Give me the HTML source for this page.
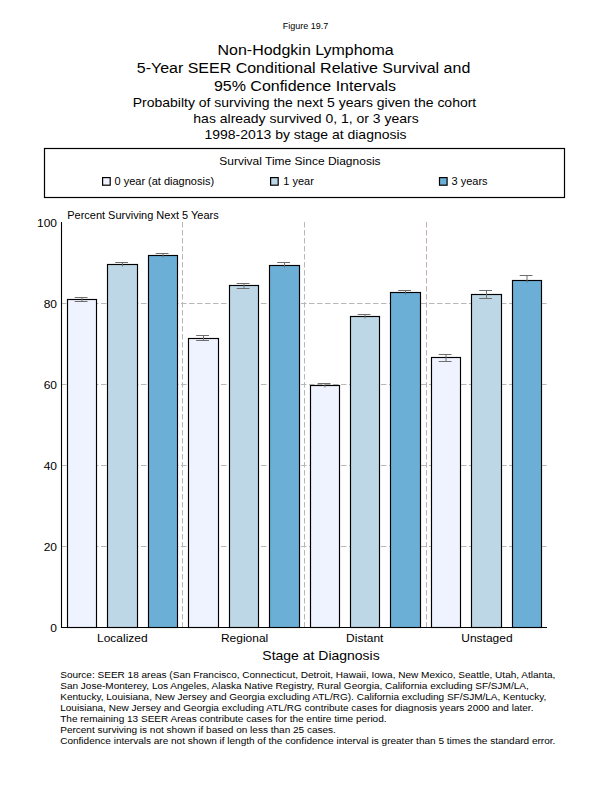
<!DOCTYPE html>
<html><head><meta charset="utf-8"><title>Figure 19.7</title>
<style>
html,body{margin:0;padding:0;background:#fff;}
svg{display:block;}
text{font-family:"Liberation Sans",sans-serif;fill:#000;}
</style></head>
<body>
<svg width="612" height="792" viewBox="0 0 612 792">
<rect width="612" height="792" fill="#fff"/>
<text transform="matrix(1.0 0 0 1.0 305.6 28.7)" font-size="9" text-anchor="middle">Figure 19.7</text>
<text transform="matrix(1.0 0 0 0.93 305.6 55.3)" font-size="16" text-anchor="middle">Non-Hodgkin Lymphoma</text>
<text transform="matrix(1.0 0 0 0.93 303.5 72.9)" font-size="16" text-anchor="middle">5-Year SEER Conditional Relative Survival and</text>
<text transform="matrix(1.0 0 0 0.93 305 90.9)" font-size="16" text-anchor="middle">95% Confidence Intervals</text>
<text transform="matrix(1.0 0 0 0.93 304.5 107.1)" font-size="14" text-anchor="middle">Probabilty of surviving the next 5 years given the cohort</text>
<text transform="matrix(1.0 0 0 0.93 306 123)" font-size="14" text-anchor="middle">has already survived 0, 1, or 3 years</text>
<text transform="matrix(1.0 0 0 0.93 305.5 138.7)" font-size="14" text-anchor="middle">1998-2013 by stage at diagnosis</text>
<rect x="44.5" y="148.5" width="520" height="49" fill="none" stroke="#000" stroke-width="1.2"/>
<text transform="matrix(1.0 0 0 0.93 299.9 164.6)" font-size="12" text-anchor="middle">Survival Time Since Diagnosis</text>
<g stroke="#000" stroke-width="1.2"><rect x="102.6" y="177.6" width="7.6" height="7.6" fill="#eff3ff"/><rect x="270.6" y="177.6" width="7.6" height="7.6" fill="#bdd7e7"/><rect x="439.5" y="177.6" width="7.6" height="7.6" fill="#6baed6"/></g>
<text transform="matrix(1.0 0 0 0.93 114.5 184.7)" font-size="11">0 year (at diagnosis)</text>
<text transform="matrix(1.0 0 0 0.93 283.3 184.7)" font-size="11">1 year</text>
<text transform="matrix(1.0 0 0 0.93 451.5 184.7)" font-size="11">3 years</text>
<text transform="matrix(1.0 0 0 0.93 67.2 218.7)" font-size="11">Percent Surviving Next 5 Years</text>
<g stroke="#b8b8b8" stroke-width="1" stroke-dasharray="5.5 2.5" fill="none"><line x1="61" y1="303.5" x2="547" y2="303.5"/><line x1="61" y1="384.5" x2="547" y2="384.5"/><line x1="61" y1="465.5" x2="547" y2="465.5"/><line x1="61" y1="546.5" x2="547" y2="546.5"/><line x1="182.5" y1="222" x2="182.5" y2="627"/><line x1="304.5" y1="222" x2="304.5" y2="627"/><line x1="426.5" y1="222" x2="426.5" y2="627" stroke="#c2adbb"/></g>
<g stroke="#000" stroke-width="1.15"><rect x="67.5" y="299.5" width="29" height="328" fill="#eff3ff"/><rect x="107.5" y="264.5" width="30" height="363" fill="#bdd7e7"/><rect x="148.5" y="255.5" width="29" height="372" fill="#6baed6"/><rect x="188.5" y="338.5" width="30" height="289" fill="#eff3ff"/><rect x="229.5" y="285.5" width="29" height="342" fill="#bdd7e7"/><rect x="269.5" y="265.5" width="30" height="362" fill="#6baed6"/><rect x="310.5" y="385.5" width="29" height="242" fill="#eff3ff"/><rect x="350.5" y="316.5" width="29" height="311" fill="#bdd7e7"/><rect x="390.5" y="292.5" width="30" height="335" fill="#6baed6"/><rect x="431.5" y="357.5" width="29" height="270" fill="#eff3ff"/><rect x="471.5" y="294.5" width="30" height="333" fill="#bdd7e7"/><rect x="512.5" y="280.5" width="29" height="347" fill="#6baed6"/></g>
<g stroke="#6e6e6e" stroke-width="1" fill="none"><path d="M74.70 297.5H87.50M82.0 297.5V301.5M74.70 301.5H87.50"/><path d="M115.20 262.5H128.00M122.5 262.5V266.5"/><path d="M155.70 253.5H168.50M163.0 253.5V257.5"/><path d="M196.20 335.5H209.00M203.5 335.5V340.5M196.20 340.5H209.00"/><path d="M236.70 283.5H249.50M244.0 283.5V288.5M236.70 288.5H249.50"/><path d="M277.20 262.5H290.00M284.5 262.5V267.5"/><path d="M317.70 383.5H330.50M325.0 383.5V387.5"/><path d="M357.70 314.5H370.50M365.0 314.5V318.5"/><path d="M398.20 290.5H411.00M405.5 290.5V294.5"/><path d="M438.70 354.5H451.50M446.0 354.5V361.5M438.70 361.5H451.50"/><path d="M479.20 290.5H492.00M486.5 290.5V298.5M479.20 298.5H492.00"/><path d="M519.70 275.5H532.50M527.0 275.5V282.5"/></g>
<path d="M61.5 222V628M61 627.5H547" stroke="#000" stroke-width="1.1" fill="none"/>
<text transform="matrix(1.0 0 0 0.93 57 631.6)" font-size="12" text-anchor="end">0</text>
<text transform="matrix(1.0 0 0 0.93 57 550.7)" font-size="12" text-anchor="end">20</text>
<text transform="matrix(1.0 0 0 0.93 57 469.7)" font-size="12" text-anchor="end">40</text>
<text transform="matrix(1.0 0 0 0.93 57 388.7)" font-size="12" text-anchor="end">60</text>
<text transform="matrix(1.0 0 0 0.93 57 307.7)" font-size="12" text-anchor="end">80</text>
<text transform="matrix(1.0 0 0 0.93 57 226.8)" font-size="12" text-anchor="end">100</text>
<text transform="matrix(1.0 0 0 0.93 122.3 641.7)" font-size="12" text-anchor="middle">Localized</text>
<text transform="matrix(1.0 0 0 0.93 244.6 641.7)" font-size="12" text-anchor="middle">Regional</text>
<text transform="matrix(1.0 0 0 0.93 364.75 641.7)" font-size="12" text-anchor="middle">Distant</text>
<text transform="matrix(1.0 0 0 0.93 486.9 641.7)" font-size="12" text-anchor="middle">Unstaged</text>
<text transform="matrix(1.0 0 0 0.93 321 659.9)" font-size="14" text-anchor="middle">Stage at Diagnosis</text>
<g xml:space="preserve"><text transform="matrix(1.004 0 0 0.92 60.2 677.9)" font-size="10">Source:  SEER 18 areas (San Francisco, Connecticut, Detroit, Hawaii, Iowa, New Mexico, Seattle, Utah, Atlanta,</text><text transform="matrix(1.004 0 0 0.92 60.2 688.9)" font-size="10">San Jose-Monterey, Los Angeles, Alaska Native Registry, Rural Georgia, California excluding SF/SJM/LA,</text><text transform="matrix(1.004 0 0 0.92 60.2 699.9)" font-size="10">Kentucky, Louisiana, New Jersey and Georgia excluding ATL/RG). California excluding SF/SJM/LA, Kentucky,</text><text transform="matrix(1.004 0 0 0.92 60.2 710.9)" font-size="10">Louisiana, New Jersey and Georgia excluding ATL/RG contribute cases for diagnosis years 2000 and later.</text><text transform="matrix(1.004 0 0 0.92 60.2 721.9)" font-size="10">The remaining 13 SEER Areas contribute cases for the entire time period.</text><text transform="matrix(1.004 0 0 0.92 60.2 732.9)" font-size="10">Percent surviving is not shown if based on less than 25 cases.</text><text transform="matrix(1.004 0 0 0.92 60.2 743.9)" font-size="10">Confidence intervals are not shown if length of the confidence interval is greater than 5 times the standard error.</text></g>
</svg>
</body></html>
